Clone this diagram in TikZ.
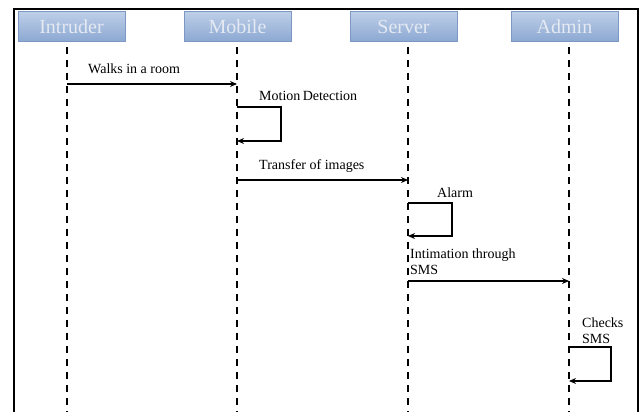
\documentclass[tikz,border=0pt]{standalone}
\usepackage{fontspec}
\setmainfont{Liberation Serif}
\usetikzlibrary{arrows.meta}

\definecolor{headtop}{RGB}{190,207,232}
\definecolor{headbot}{RGB}{140,168,210}
\definecolor{headline}{RGB}{125,152,196}
\definecolor{headtext}{RGB}{228,233,242}

\tikzset{
    actor/.style={draw=headline,line width=0.8pt,top color=headtop,bottom color=headbot,
        minimum width=107pt,minimum height=30pt,inner sep=0pt,text=headtext,
        font=\fontsize{20}{22}\selectfont},
    lifeline/.style={line width=1.8pt,dash pattern=on 7pt off 6pt},
    msg/.style={line width=1.6pt,-{Stealth[length=7pt,width=6pt]}},
    note/.style={font=\fontsize{14}{16}\selectfont,inner sep=0pt,anchor=base west,align=left}
}

\begin{document}
\begin{tikzpicture}[x=1pt,y=-1pt]
            \useasboundingbox (0,0) rectangle (641,412);
            \draw[line width=2.6pt] (14,430) -- (14,9) -- (638,9) -- (638,430);

            % actors
            \node[actor] (intruder) at (71.5,26.5) {Intruder};
            \node[actor] (mobile) at (237.5,26.5) {Mobile};
            \node[actor] (server) at (403.5,26.5) {Server};
            \node[actor] (admin) at (564.5,26.5) {Admin};

            % lifelines
            \coordinate (intruderTop) at (67,47);   \coordinate (intruderEnd) at (67,412);
            \coordinate (mobileTop) at (237,47);    \coordinate (mobileEnd) at (237,412);
            \coordinate (serverTop) at (408,47);    \coordinate (serverEnd) at (408,412);
            \coordinate (adminTop) at (569,47);     \coordinate (adminEnd) at (569,412);
            \draw[lifeline] (intruderTop) -- (intruderEnd);
            \draw[lifeline] (mobileTop) -- (mobileEnd);
            \draw[lifeline] (serverTop) -- (serverEnd);
            \draw[lifeline] (adminTop) -- (adminEnd);

            % messages
            \coordinate (walkA) at (67,84);  \coordinate (walkB) at (237,84);
            \draw[msg] (walkA) -- (walkB);
            \node[note] (walkLabel) at (88,74) {Walks in a room};

            \coordinate (motionA) at (237,107);  \coordinate (motionB) at (237,141);
            \draw[msg] (motionA) -- (281,107) -- (281,141) -- (motionB);
            \node[note] (motionLabel) at (259,101) {Motion\,Detection};

            \coordinate (transferA) at (237,180);  \coordinate (transferB) at (408,180);
            \draw[msg] (transferA) -- (transferB);
            \node[note] (transferLabel) at (259,169) {Transfer of images};

            \coordinate (alarmA) at (408,203);  \coordinate (alarmB) at (408,236);
            \draw[msg] (alarmA) -- (452,203) -- (452,236) -- (alarmB);
            \node[note] (alarmLabel) at (437,197) {Alarm};

            \coordinate (smsA) at (408,281);  \coordinate (smsB) at (569,281);
            \draw[msg] (smsA) -- (smsB);
            \node[note] (smsLabel) at (410,274) {Intimation through\\SMS};

            \coordinate (checkA) at (569,347);  \coordinate (checkB) at (569,381);
            \draw[msg] (checkA) -- (611,347) -- (611,381) -- (checkB);
            \node[note] (checkLabel) at (582,343) {Checks\\SMS};
        \end{tikzpicture}
\end{document}
